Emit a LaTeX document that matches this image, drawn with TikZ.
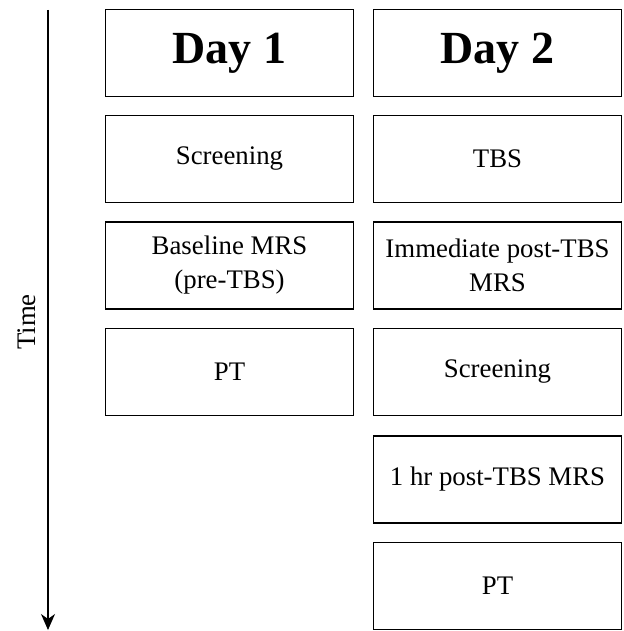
\documentclass[tikz,border=0pt]{standalone}
\usepackage{fontspec}
\setmainfont{Liberation Serif}
\usetikzlibrary{arrows.meta}
\begin{document}
\begin{tikzpicture}[x=1pt,y=-1pt]
            \tikzset{
                slot/.style={draw, line width=1.2pt, minimum width=248pt, minimum height=87pt,
                    inner sep=0pt, align=center, font=\fontsize{26.8}{34}\selectfont},
                dayhead/.style={slot, font=\fontsize{46}{52}\selectfont\bfseries},}
            \def\colA{229.5}
            \def\colB{497.5}
            \useasboundingbox (0,0) rectangle (623,631);
            % day 1
            \node[dayhead] (dayone) at (\colA,53) {Day 1};
            \node[slot] (screenA) at (\colA,159) {Screening};
            \node[slot] (baseline) at (\colA,265.5) {Baseline MRS\\(pre-TBS)};
            \node[slot] (ptA) at (\colA,372) {PT};
            % day 2
            \node[dayhead] (daytwo) at (\colB,53) {Day 2};
            \node[slot] (tbs) at (\colB,159) {TBS};
            \node[slot] (postnow) at (\colB,265.5) {Immediate post-TBS\\MRS};
            \node[slot] (screenB) at (\colB,372) {Screening};
            \node[slot] (posthr) at (\colB,479.5) {1 hr post-TBS MRS};
            \node[slot] (ptB) at (\colB,586) {PT};
            % time axis
            \coordinate (tstart) at (48,10);
            \coordinate (tend) at (48,630);
            \draw [line width=1.2pt, -{Stealth[length=16pt,width=14pt,inset=5pt]}] (tstart) -- (tend);
            \node[rotate=90, font=\fontsize{26.8}{30}\selectfont] (tlabel) at (27,322) {Time};
        \end{tikzpicture}
\end{document}
